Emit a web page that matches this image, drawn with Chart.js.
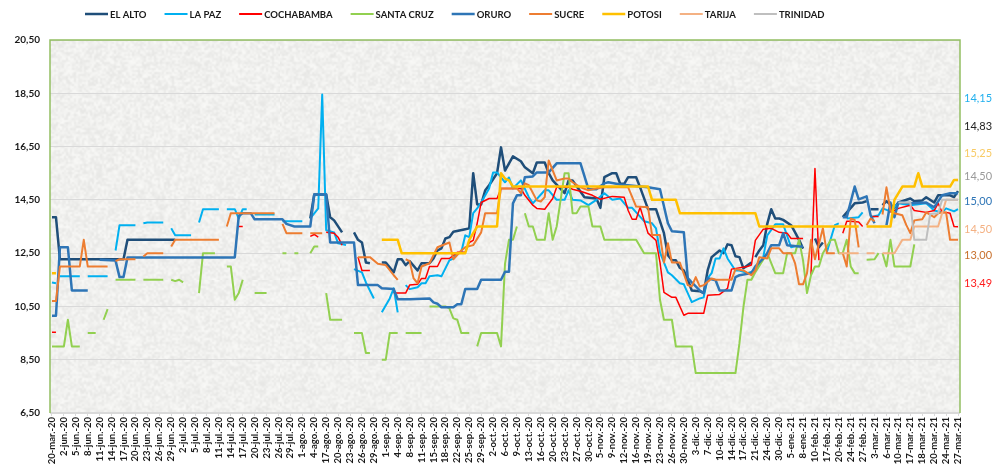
<!DOCTYPE html>
<html>
<head>
<meta charset="utf-8">
<style>
html, body { margin: 0; padding: 0; background: #fff; }
canvas { display: block; }
</style>
<script src="https://cdn.jsdelivr.net/npm/chart.js@4/dist/chart.umd.min.js"></script>
</head>
<body>
<canvas id="chart" width="993" height="468"></canvas>
<script>
// One label every third point of the axis
const tickLabels = ['20-mar.-20','2-jun.-20','5-jun.-20','8-jun.-20','11-jun.-20','14-jun.-20','17-jun.-20','20-jun.-20','23-jun.-20','26-jun.-20','29-jun.-20','2-jul.-20','5-jul.-20','8-jul.-20','11-jul.-20','14-jul.-20','17-jul.-20','20-jul.-20','23-jul.-20','26-jul.-20','29-jul.-20','1-ago.-20','4-ago.-20','17-ago.-20','20-ago.-20','23-ago.-20','26-ago.-20','29-ago.-20','1-sep.-20','4-sep.-20','8-sep.-20','11-sep.-20','15-sep.-20','18-sep.-20','22-sep.-20','25-sep.-20','29-sep.-20','2-oct.-20','6-oct.-20','9-oct.-20','13-oct.-20','16-oct.-20','20-oct.-20','23-oct.-20','27-oct.-20','30-oct.-20','5-nov.-20','9-nov.-20','12-nov.-20','16-nov.-20','19-nov.-20','23-nov.-20','26-nov.-20','30-nov.-20','3-dic.-20','7-dic.-20','10-dic.-20','14-dic.-20','17-dic.-20','21-dic.-20','24-dic.-20','30-dic.-20','5-ene.-21','8-ene.-21','10-feb.-21','17-feb.-21','20-feb.-21','24-feb.-21','27-feb.-21','3-mar.-21','6-mar.-21','10-mar.-21','17-mar.-21','18-mar.-21','20-mar.-21','24-mar.-21','27-mar.-21'];

// [point number, value]; a null value leaves a gap in the line
const elAlto = [[0,13.85],[1,13.85],[2,12.27],[18,12.27],[19,13.0],[31,13.0],[32,null],
[65,13.8],[66,14.7],[69,14.7],[70,13.85],[71,13.73],[73,13.28],[74,null],
[76,13.28],[77,13.0],[78,12.9],[79,12.15],[80,12.12],[81,null],
[83,12.15],[84,12.15],[86,11.78],[87,12.27],[88,12.27],[89,12.05],[90,12.2],[92,11.85],[93,12.12],[95,12.12],[96,12.3],[97,12.6],[98,12.68],[99,13.05],[100,13.1],[101,13.3],[104,13.4],[105,13.43],[106,15.5],[107,14.33],[108,14.33],[109,14.85],[110,15.05],[112,15.5],[113,16.47],[114,15.6],[116,16.13],[118,15.95],[119,15.72],[121,15.5],[122,15.9],[124,15.9],[125,15.5],[126,15.23],[129,14.75],[130,15.23],[131,15.23],[134,14.6],[137,14.55],[138,14.2],[139,15.35],[141,15.5],[142,15.5],[143,15.1],[144,15.1],[145,15.35],[147,15.35],[148,14.97],[150,14.15],[152,14.15],[154,13.25],[155,12.42],[156,12.23],[157,12.23],[158,11.95],[159,11.85],[160,11.5],[161,11.1],[163,11.07],[164,11.0],[165,11.85],[166,12.35],[168,12.6],[169,12.5],[170,12.83],[171,12.8],[172,12.38],[173,12.35],[174,11.93],[176,12.15],[176.5,null],
[177,12.35],[178,12.6],[179,12.8],[180,13.6],[181,14.15],[182,13.8],[183,13.8],[184,13.75],[186,13.55],[187,13.28],[188,13.0],[189,12.67],[190,null],
[192,13.05],[193,12.72],[194,12.9],[195,null],
[199,13.85],[202,14.37],[204,14.4],[205,14.45],[205.5,null],
[206,14.15],[208,14.15],[208.5,null],
[209,14.3],[210,14.45],[212,14.2],[213,14.4],[216,14.55],[217,14.45],[219,14.48],[220,14.6],[222,14.4],[223,14.67],[226,14.67],[227,14.6],[228,14.83]];

const laPaz = [[0,11.4],[1,11.37],[1.5,null],
[2,11.63],[7,11.63],[8,null],[9,11.63],[14,11.63],[15,null],
[16,12.6],[17,13.55],[21,13.55],[22,null],[23,13.62],[24,13.65],[28,13.65],[29,null],[30,13.43],[31,13.17],[35,13.17],[36,null],
[37,13.65],[38,14.15],[42,14.15],[43,null],[44,14.15],[46,14.15],[47,13.8],[48,14.15],[49,14.15],[50,null],
[51,13.95],[56,13.95],[57,null],[58,13.7],[63,13.7],[64,null],
[65,13.8],[67,14.18],[68,18.45],[69,13.36],[71,13.28],[72,12.87],[74,12.8],[75,null],
[76,11.9],[78,11.78],[79,11.4],[81,10.8],[82,null],
[83,10.28],[85,10.8],[86,11.18],[87,10.28],[88,null],
[89,11.3],[90,11.15],[92,11.22],[93,11.37],[94,11.37],[95,11.63],[97,11.67],[98,11.63],[100,12.23],[101,12.3],[102,12.5],[103,12.53],[104,13.17],[105,13.1],[106,14.0],[107,14.18],[108,14.4],[110,14.93],[111,15.53],[112,15.53],[114,15.16],[115,15.34],[116,14.93],[118,15.23],[120,14.6],[121,14.37],[124,14.86],[125,14.86],[127,14.5],[129,14.5],[130,14.86],[131,14.5],[133,14.48],[135,14.3],[137,14.5],[139,14.75],[141,14.5],[143,14.55],[145,14.2],[146,14.2],[149,13.7],[151,13.62],[152,13.43],[153,12.53],[155,11.78],[156,11.67],[158,11.37],[159,11.33],[161,10.66],[163,10.8],[164,10.84],[165,11.56],[166,11.75],[167,12.3],[168,12.3],[169,12.68],[170,12.3],[172,11.85],[173,11.85],[175,11.75],[177,11.85],[179,12.35],[180,13.17],[182,13.58],[184,13.58],[186,12.72],[188,12.8],[189,null],
[195,12.53],[196,13.05],[197,13.55],[198,13.62],[199,null],
[200,13.8],[203,13.85],[204,14.03],[205,null],
[206,13.85],[208,13.92],[209,14.18],[211,14.07],[213,14.37],[216,14.3],[220,14.37],[222,14.1],[224,14.03],[225,14.18],[227,14.07],[228,14.15]];

const cochabamba = [[0,9.53],[1,9.53],[2,null],
[47,13.5],[48,13.5],[49,null],
[65,13.13],[66,13.2],[67,13.1],[68,null],
[69,13.28],[71,13.25],[72,13.1],[73,12.8],[74,null],
[77,12.35],[78,11.85],[80,11.85],[81,null],
[86,11.0],[88,11.0],[89,11.0],[90,11.3],[92,11.33],[93,11.55],[94,11.55],[95,12.0],[97,12.0],[98,12.3],[100,12.3],[102,12.53],[104,12.53],[105,12.9],[106,12.98],[107,13.62],[108,14.4],[110,14.55],[112,14.55],[113,14.93],[118,14.93],[119,14.67],[121,14.3],[122,14.18],[124,14.15],[126,14.55],[127,14.97],[130,14.97],[131,14.9],[133,14.82],[136,14.67],[138,14.52],[141,14.63],[144,14.6],[145,14.1],[146,13.77],[147,13.77],[148,14.22],[149,13.73],[150,13.25],[152,12.98],[153,12.15],[154,11.03],[156,10.84],[157,10.84],[159,10.17],[160,10.24],[164,10.24],[165,10.92],[168,10.95],[170,11.18],[171,11.9],[175,12.0],[176,12.05],[177,12.98],[179,13.4],[181,13.43],[183,13.28],[185,13.25],[186,13.05],[189,13.05],[190,null],
[191,11.67],[192,15.68],[193,12.23],[194,null],
[199,13.25],[200,13.7],[201,13.7],[203,13.67],[204,13.5],[205,null],
[206,13.88],[208,13.88],[209,null],
[211,14.03],[213,14.18],[216,14.3],[217,14.1],[220,14.03],[222,14.1],[223,14.37],[224,14.03],[225,14.03],[226,14.0],[227,13.5],[228,13.49]];

const santaCruz = [[0,9.0],[3,9.0],[4,10.0],[5,9.0],[7,9.0],[8,null],[9,9.5],[11,9.5],[12,null],[13,10.0],[14,10.4],[15,null],
[16,11.5],[21,11.5],[22,null],[23,11.5],[28,11.5],[29,null],[30,11.5],[31,11.45],[32,11.5],[33,11.4],[34,null],
[37,11.0],[38,12.5],[41,12.5],[42,null],[44,12.0],[45,12.0],[46,10.75],[47,11.0],[48,11.5],[49,null],
[51,11.0],[54,11.0],[55,null],[58,12.5],[59,12.5],[60,null],[61,12.5],[62,12.5],[63,null],[65,12.5],[66,12.75],[67,12.75],[68,null],
[69,11.0],[70,10.0],[73,10.0],[74,null],[76,9.5],[78,9.5],[79,8.75],[80,8.75],[81,null],
[83,8.5],[84,8.5],[85,9.5],[87,9.5],[88,null],[89,9.5],[93,9.5],[94,null],
[95,10.5],[99,10.5],[100,10.43],[101,10.05],[102,10.0],[103,9.5],[105,9.5],[106,null],
[107,9.0],[108,9.5],[112,9.5],[113,9.0],[114,12.1],[115,13.0],[116,13.0],[117,13.5],[118,null],
[119,14.0],[120,13.5],[121,13.5],[122,13.0],[124,13.0],[125,14.0],[126,13.0],[127,13.5],[129,15.5],[130,15.5],[131,14.0],[132,14.0],[133,14.25],[135,14.25],[136,13.5],[138,13.5],[139,13.0],[147,13.0],[149,12.5],[152,12.5],[153,10.75],[154,10.0],[156,10.0],[157,9.0],[161,9.0],[162,8.0],[172,8.0],[173,9.12],[174,10.47],[175,11.5],[176,11.5],[177,11.78],[180,12.5],[182,11.75],[184,11.75],[185,12.5],[187,12.5],[188,13.0],[189,12.23],[190,11.0],[191,11.67],[192,12.0],[193,12.0],[194,12.5],[196,13.0],[197,13.0],[198,12.5],[199,12.5],[200,13.0],[201,12.0],[202,11.75],[203,11.75],[204,null],
[205,12.25],[207,12.27],[208,12.5],[208.5,null],[209,12.5],[210,12.0],[211,13.0],[212,12.0],[216,12.0],[217,12.83]];

const oruro = [[0,10.15],[1,10.15],[2,12.72],[4,12.72],[5,11.1],[9,11.1],[10,null],
[12,12.25],[16,12.22],[17,11.6],[18,11.6],[19,12.34],[46,12.34],[47,13.9],[48,14.0],[50,14.0],[51,13.77],[58,13.77],[59,13.6],[61,13.5],[65,13.5],[66,14.7],[69,14.7],[70,12.9],[76,12.9],[77,11.3],[82,11.3],[83,11.18],[86,11.15],[87,10.77],[90,10.77],[95,10.8],[96,10.65],[97,10.6],[98,10.47],[101,10.47],[102,10.58],[103,10.58],[104,11.15],[107,11.15],[108,11.5],[113,11.5],[114,11.8],[115,11.8],[116,14.37],[117,14.67],[118,14.67],[119,15.35],[121,15.38],[122,15.53],[125,15.53],[127,15.87],[133,15.87],[135,14.9],[137,14.9],[139,15.12],[140,15.16],[143,15.08],[150,14.97],[153,14.9],[155,13.62],[156,13.32],[159,13.28],[160,11.56],[161,11.4],[163,11.1],[164,11.0],[165,11.56],[167,11.48],[168,11.1],[171,11.1],[172,11.6],[173,11.67],[176,11.75],[177,12.0],[179,12.3],[180,12.5],[181,12.8],[183,12.8],[184,13.25],[185,12.8],[188,12.75],[189,12.75],[190,null],
[199,13.85],[200,13.85],[202,15.0],[203,14.52],[205,14.63],[206,13.92],[207,13.62],[208,null],
[210,13.55],[211,14.4],[212,13.85],[213,14.4],[217,14.37],[220,14.4],[222,14.22],[224,14.67],[226,14.75],[228,14.75]];

const sucre = [[0,10.7],[1,10.7],[2,12.0],[7,12.0],[8,13.0],[9,12.0],[14,12.0],[15,null],
[16,12.2],[17,12.27],[21,12.27],[22,null],[23,12.37],[24,12.5],[28,12.5],[29,null],[30,12.75],[31,13.0],[42,13.0],[43,null],
[44,13.5],[45,14.0],[56,14.0],[57,null],[58,13.6],[59,13.25],[63,13.25],[64,null],[65,13.25],[68,13.25],[69,null],
[77,12.35],[80,12.35],[82,12.1],[84,12.05],[86,11.67],[87,11.5],[88,null],
[89,12.27],[90,12.2],[91,11.55],[92,11.37],[93,12.0],[95,12.12],[97,12.72],[100,12.9],[101,12.27],[103,12.6],[104,12.72],[106,12.8],[108,13.28],[109,14.0],[112,14.0],[113,14.93],[117,14.93],[118,14.75],[119,15.12],[120,15.05],[122,14.48],[123,14.44],[124,14.6],[125,15.98],[127,15.23],[129,15.3],[130,15.3],[131,15.16],[133,14.97],[135,14.86],[137,14.93],[139,14.97],[145,14.97],[147,14.25],[150,14.22],[151,13.18],[153,13.18],[154,12.15],[155,12.87],[156,12.15],[158,12.15],[160,11.3],[161,11.25],[162,11.6],[163,11.25],[164,11.3],[166,11.55],[167,11.5],[171,11.5],[172,11.9],[174,11.85],[176,11.67],[177,11.85],[178,12.35],[180,12.3],[181,12.68],[183,12.68],[184,12.5],[186,12.5],[187,12.12],[188,11.33],[189,11.33],[190,11.75],[191,13.0],[192,12.27],[194,13.43],[195,12.5],[197,12.5],[198,null],
[199,12.5],[200,12.0],[201,13.8],[202,13.75],[203,12.72],[204,null],
[205,13.55],[206,13.8],[207,13.7],[208,null],
[209,13.95],[210,14.97],[211,14.1],[212,14.0],[214,13.92],[215,13.55],[216,13.25],[217,13.73],[219,13.77],[220,14.03],[222,13.85],[223,14.0],[224,14.03],[225,14.03],[226,13.0],[228,13.0]];

const potosi = [[0,11.75],[1,11.75],[2,null],
[83,13.0],[87,13.0],[88,12.5],[104,12.5],[105,13.0],[107,13.5],[112,13.5],[113,15.5],[114,15.3],[115,15.23],[116,15.0],[150,15.0],[151,14.5],[157,14.5],[158,14.0],[177,14.0],[178,13.5],[203,13.5],[204,null],
[205,13.5],[211,13.5],[212,14.5],[214,15.0],[217,15.0],[218,15.5],[219,15.0],[226,15.0],[227,15.25],[228,15.25]];

const tarija = [[198,12.5],[203,12.5],[204,null],[205,12.5],[207,12.5],[208,null],
[209,12.5],[212,12.5],[214,13.0],[216,13.0],[217,13.5],[223,13.5],[224,14.0],[225,14.5],[228,14.5]];

const trinidad = [[213,14.4],[216,14.4],[217,13.0],[220,13.0],[221,13.97],[223,14.0],[224,14.5],[228,14.5]];

const seriesNames = ['EL ALTO','LA PAZ','COCHABAMBA','SANTA CRUZ','ORURO','SUCRE','POTOSI','TARIJA','TRINIDAD'];
const seriesValues = [elAlto, laPaz, cochabamba, santaCruz, oruro, sucre, potosi, tarija, trinidad];
const seriesColors = ['#1f4e79','#00b0f0','#ff0000','#92d050','#2e75b6','#ed7d31','#ffc000','#f4b183','#bfbfbf'];
const seriesWidths = [2.5, 2, 1.5, 2, 2.5, 2, 2.5, 2, 2];

// Last values printed to the right of the plot
const endLabels = ['14,15','14,83','15,25','14,50','15,00','14,50','13,00','13,49'];
const endValues = [18.31, 17.26, 16.24, 15.38, 14.44, 13.39, 12.42, 11.37];
const endColors = ['#22b0ee','#222222','#f8cb66','#9a9a9a','#2e75b6','#f4b183','#c8702c','#ff1a1a'];

// Grey granite look of the plot background
function makeTexture() {
    const small = document.createElement('canvas');
    small.width = small.height = 140;
    const sctx = small.getContext('2d');
    const img = sctx.createImageData(140, 140);
    let seed = 12345;
    for (let i = 0; i < img.data.length; i += 4) {
        seed = (seed * 16807) % 2147483647;
        const g = 231 + (seed % 19);
        img.data[i] = g;
        img.data[i + 1] = g;
        img.data[i + 2] = g - 2;
        img.data[i + 3] = 255;
    }
    sctx.putImageData(img, 0, 0);
    const big = document.createElement('canvas');
    big.width = big.height = 280;
    const bctx = big.getContext('2d');
    bctx.imageSmoothingEnabled = true;
    bctx.drawImage(small, 0, 0, 280, 280);
    return big;
}

const plotDecor = {
    id: 'plotDecor',
    beforeDraw(chart) {
        const { ctx, chartArea: a } = chart;
        ctx.save();
        ctx.fillStyle = ctx.createPattern(makeTexture(), 'repeat');
        ctx.fillRect(a.left, a.top, a.width, a.height);
        ctx.restore();
    },
    afterDatasetsDraw(chart) {
        const { ctx, chartArea: a, scales } = chart;
        ctx.save();
        // frame: green on three sides, grey along the bottom
        ctx.strokeStyle = '#d9d9d9';
        ctx.lineWidth = 2;
        ctx.beginPath();
        ctx.moveTo(a.left, a.bottom);
        ctx.lineTo(a.right, a.bottom);
        ctx.stroke();
        ctx.strokeStyle = '#93bf62';
        ctx.lineWidth = 1.5;
        ctx.beginPath();
        ctx.moveTo(a.left, a.bottom);
        ctx.lineTo(a.left, a.top);
        ctx.lineTo(a.right, a.top);
        ctx.lineTo(a.right, a.bottom);
        ctx.stroke();

        // legend along the top
        ctx.font = 'bold 9.5px Lato';
        ctx.textBaseline = 'middle';
        ctx.textAlign = 'left';
        let x = 85;
        seriesNames.forEach((name, i) => {
            ctx.strokeStyle = seriesColors[i];
            ctx.lineWidth = Math.max(seriesWidths[i], 2);
            ctx.beginPath();
            ctx.moveTo(x, 14);
            ctx.lineTo(x + 23, 14);
            ctx.stroke();
            ctx.fillStyle = '#1a1a1a';
            ctx.fillText(name, x + 25, 14.5);
            x += 25 + ctx.measureText(name).width + 18;
        });

        // end values
        ctx.font = '11px Lato';
        endLabels.forEach((label, i) => {
            ctx.fillStyle = endColors[i];
            ctx.fillText(label, a.right + 4, scales.y.getPixelForValue(endValues[i]));
        });
        ctx.restore();
    }
};

new Chart(document.getElementById('chart'), {
    type: 'line',
    data: {
        datasets: seriesNames.map((name, i) => ({
            label: name,
            data: seriesValues[i].map(p => ({ x: p[0], y: p[1] })),
            borderColor: seriesColors[i],
            backgroundColor: seriesColors[i],
            borderWidth: seriesWidths[i],
            pointRadius: 0,
            tension: 0,
            spanGaps: false,
            borderJoinStyle: 'round',
            order: seriesNames.length - i // later series on top
        }))
    },
    plugins: [plotDecor],
    options: {
        responsive: false,
        animation: false,
        layout: { padding: { top: 40, right: 33, left: 0, bottom: 0 } },
        plugins: { legend: { display: false }, tooltip: { enabled: false } },
        scales: {
            x: {
                type: 'linear',
                min: -0.5,
                max: 228.5,
                afterBuildTicks: scale => { scale.ticks = tickLabels.map((_, i) => ({ value: i * 3 })); },
                afterFit: scale => { scale.height = 55; },
                grid: { drawOnChartArea: false, color: '#d9d9d9', tickLength: 3 },
                border: { display: false },
                ticks: {
                    autoSkip: false,
                    maxRotation: 90,
                    minRotation: 90,
                    padding: 1,
                    color: '#1a1a1a',
                    font: { family: 'Lato', size: 9.5, weight: 'bold' },
                    callback: value => tickLabels[value / 3]
                }
            },
            y: {
                min: 6.5,
                max: 20.5,
                afterFit: scale => { scale.width = 50; },
                grid: { color: '#d9d9d9', drawTicks: false },
                border: { display: false },
                ticks: {
                    stepSize: 2,
                    padding: 10,
                    color: '#1a1a1a',
                    font: { family: 'Lato', size: 10, weight: 'bold' },
                    callback: value => value.toFixed(2).replace('.', ',')
                }
            }
        }
    }
});
</script>
</body>
</html>
